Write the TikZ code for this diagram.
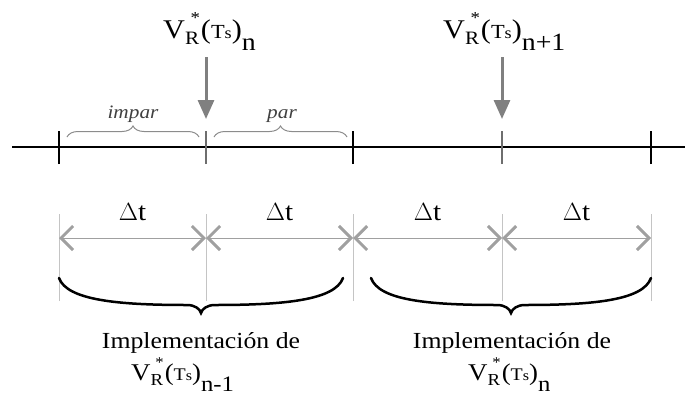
\documentclass[tikz,border=0pt]{standalone}
\usepackage{fontspec}
\setmainfont{Liberation Serif}[FakeStretch=1.12]
\usepackage{graphicx}
\usetikzlibrary{arrows.meta,calc,decorations.pathreplacing}

\definecolor{tickgray}{HTML}{6E6E6E}
\definecolor{arrgray}{HTML}{808080}
\definecolor{dimgray}{HTML}{A0A0A0}
\definecolor{extgray}{HTML}{C4C4C4}
\definecolor{bracegray}{HTML}{8C8C8C}

% V_R^*(T_s)_<index>
\newcommand{\vrts}[1]{V\rlap{\raisebox{-.24em}{\scalebox{.7}{R}}}%
  \raisebox{.52em}{\makebox[.55em][r]{\scalebox{.62}{*}}}%
  \kern.04em(\scalebox{.74}{T}\scalebox{.6}{s})%
  \raisebox{-.48em}{\scalebox{.92}{#1}}}

\begin{document}
\begin{tikzpicture}[
  x=1pt,y=-1pt,
  toplabel/.style ={anchor=base west,inner sep=0pt,font=\fontsize{27pt}{30pt}\selectfont},
  botlabel/.style ={anchor=base west,inner sep=0pt,font=\fontsize{24pt}{27pt}\selectfont},
  impltext/.style ={anchor=base,inner sep=0pt,font=\fontsize{23pt}{25pt}\selectfont},
  dtlabel/.style  ={anchor=base,inner sep=0pt,font=\fontsize{26pt}{28pt}\selectfont},
  parlabel/.style ={anchor=base,inner sep=0pt,text=black!75,
                    font=\fontsize{19pt}{21pt}\selectfont\itshape},
  axis/.style     ={line width=2pt},
  majortick/.style={line width=2.5pt},
  minortick/.style={line width=2.5pt,draw=tickgray},
  downarrow/.style={draw=arrgray,fill=arrgray,line width=3pt,
                    -{Triangle[width=16pt,length=19pt]}},
  extline/.style  ={draw=extgray,line width=1pt},
  dimarrow/.style ={draw=dimgray,line width=1pt,
                    {Straight Barb[length=12pt,width=24pt,line width=3pt]}-{Straight Barb[length=12pt,width=24pt,line width=3pt]}},
  smallbrace/.style={draw=bracegray,line width=1pt,
                    decorate,decoration={brace,amplitude=11pt}},
  bigbrace/.style ={line width=2.5pt,line cap=round},
]
\useasboundingbox (0,0) rectangle (685,399);

%% --- time axis and ticks ---
\coordinate (left) at (12,147);
\coordinate (right) at (685,147);
\draw[axis] (left) -- (right);

\foreach \i/\x in {0/59,1/206,2/353,3/502,4/651}{
  \coordinate (t\i) at (\x,147);
  \coordinate (e\i) at (\x,238);
}
\foreach \i in {0,2,4}
  \draw[majortick] ([yshift=-17pt]t\i) -- ([yshift=16pt]t\i);
\foreach \i in {1,3}
  \draw[minortick] ([yshift=-17pt]t\i) -- ([yshift=16pt]t\i);

%% --- sampling instants (top) ---
\node[toplabel] (vn)  at (163,38) {\vrts{n}};
\node[toplabel] (vn1) at (443,38) {\vrts{n+1}};

\coordinate (a1) at (206,57);  \coordinate (p1) at (206,119);
\coordinate (a3) at (502,57);  \coordinate (p3) at (502,119);
\draw[downarrow] (a1) -- (p1);
\draw[downarrow] (a3) -- (p3);

% impar / par
\draw[smallbrace] (67,137) -- (199,137);
\draw[smallbrace] (214,137) -- (347,137);
\node[parlabel] (impar) at (133,118) {impar};
\node[parlabel] (par)   at (282,118) {par};

%% --- intervals ---
\foreach \i in {0,...,4}
  \draw[extline] ([yshift=-63pt]e\i) -- ([yshift=24pt]e\i);
\foreach \i/\j in {0/1,1/2,2/3,3/4}{
  \draw[dimarrow] (e\i) -- (e\j);
  \node[dtlabel] (dt\i) at ($(e\i)!0.5!(e\j)+(0,-18)$) {$\Delta$t};
}

%% --- implementation braces (bottom) ---
\foreach \n/\xa/\xb in {1/59/343,2/371/651}{
  \coordinate (bl\n) at (\xa,278);
  \coordinate (br\n) at (\xb,278);
  \coordinate (bm\n) at ($(bl\n)!0.5!(br\n)+(0,35)$);
  \draw[bigbrace] (bl\n) .. controls +(8,22) and +(-70,0) .. ($(bm\n)+(-14,-8)$)
        .. controls +(8,0) and +(-1,-4) .. (bm\n)
        .. controls +(1,-4) and +(-8,0) .. ($(bm\n)+(14,-8)$)
        .. controls +(70,0) and +(-8,22) .. (br\n);
}

\node[impltext] (impl1) at (201,348) {Implementación de};
\node[impltext] (impl2) at (512,348) {Implementación de};
\node[botlabel] (vnm1) at (131,380) {\vrts{n-1}};
\node[botlabel] (vn2)  at (468,380) {\vrts{n}};

\end{tikzpicture}
\end{document}
